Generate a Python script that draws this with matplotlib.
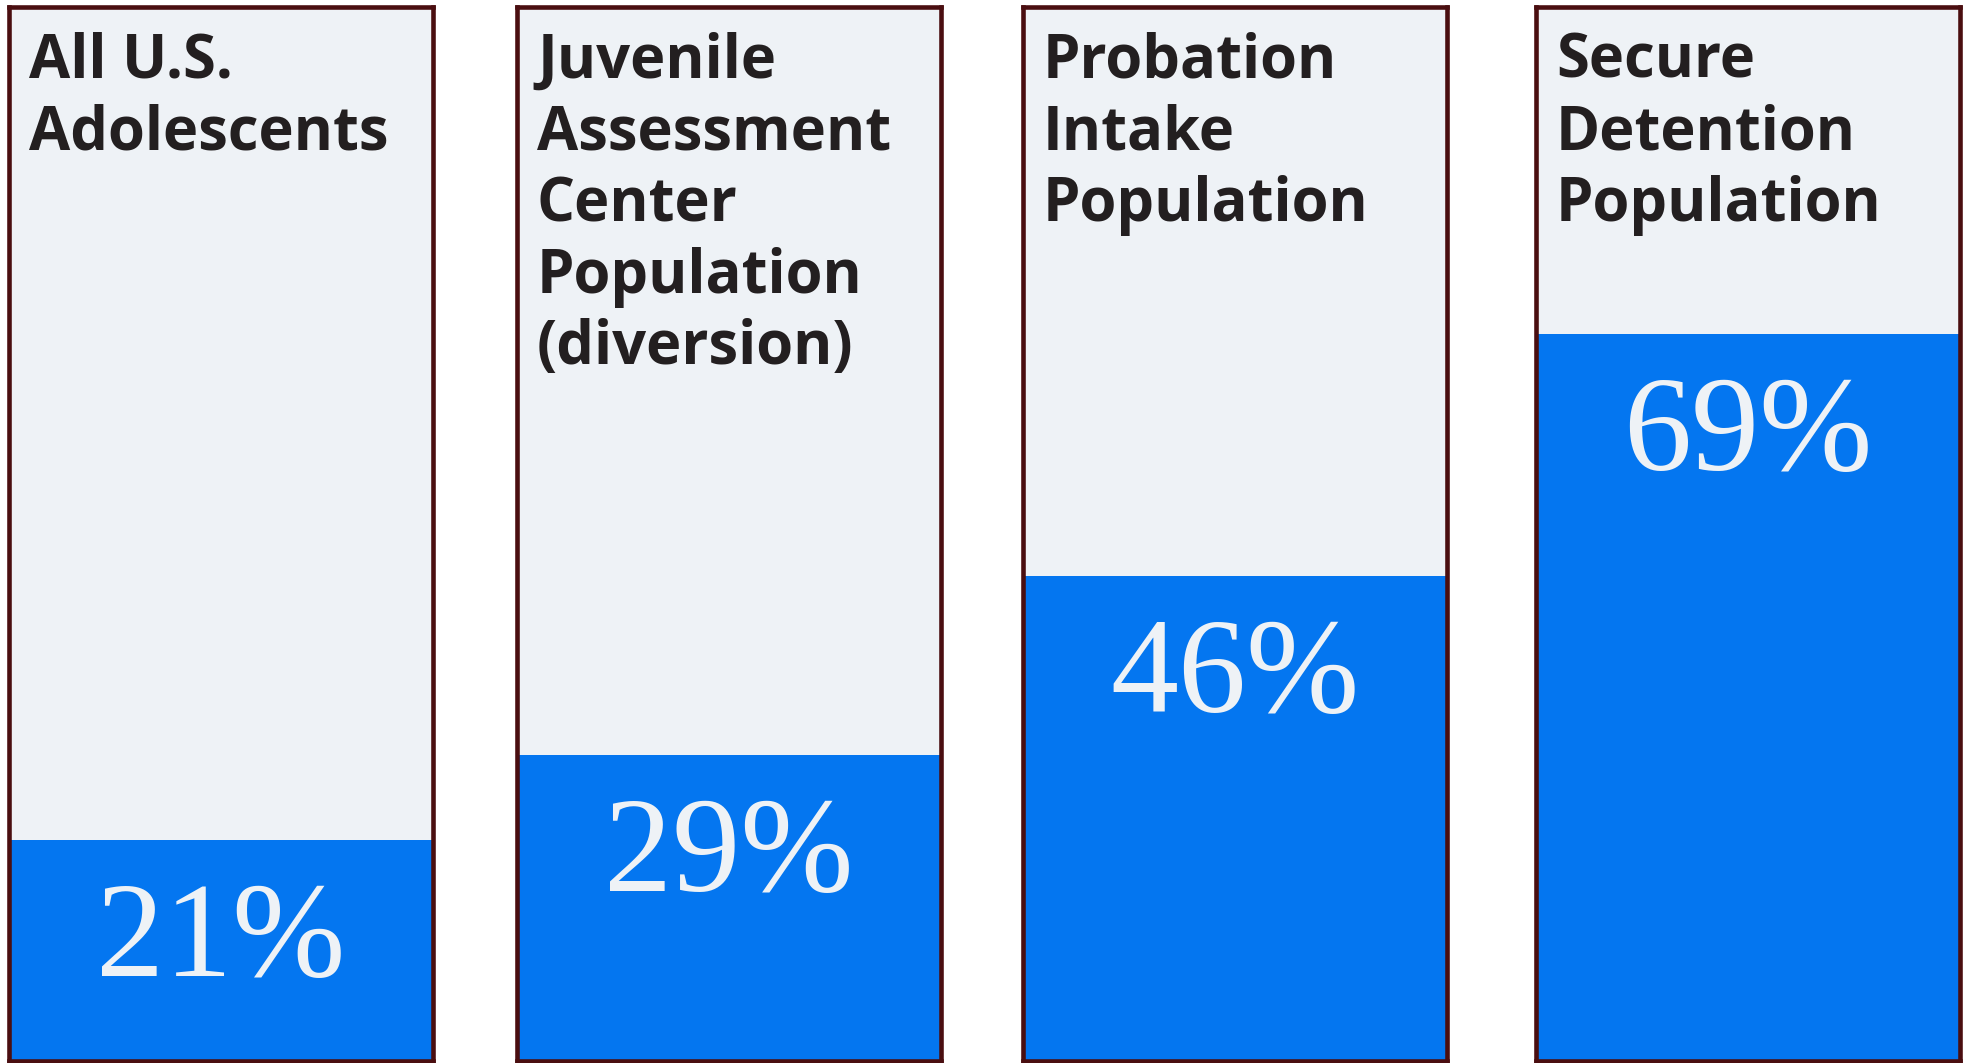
import matplotlib.pyplot as plt

# Share of each population
groups = [
    "All U.S.\nAdolescents",
    "Juvenile\nAssessment\nCenter\nPopulation\n(diversion)",
    "Probation\nIntake\nPopulation",
    "Secure\nDetention\nPopulation",
]
percents = [21, 29, 46, 69]

blue = "#0476F0"
panel_bg = "#EEF2F6"
border = "#4A0E10"
dark_text = "#231F20"

W, H = 1967, 1063
fig = plt.figure(figsize=(W / 100, H / 100), dpi=100)
fig.patch.set_facecolor("white")

# panel placement in pixels (left edge, width, top, bottom)
lefts = [9, 517, 1023, 1536]
panel_w = 424
top_px = 7
bottom_px = 1061

for i, (name, pct) in enumerate(zip(groups, percents)):
    ax = fig.add_axes([lefts[i] / W, (H - bottom_px) / H,
                       panel_w / W, (bottom_px - top_px) / H])
    ax.set_facecolor(panel_bg)
    ax.bar(0, pct, width=1, color=blue, align="center", zorder=1)
    ax.set_xlim(-0.5, 0.5)
    ax.set_ylim(0, 100)
    ax.set_xticks([])
    ax.set_yticks([])
    for sp in ax.spines.values():
        sp.set_color(border)
        sp.set_linewidth(3.3)
        sp.set_zorder(3)

    # group name, top left
    ax.annotate(name, xy=(0, 1), xycoords="axes fraction",
                xytext=(20, -25), textcoords="offset pixels",
                ha="left", va="top", fontsize=43, fontweight="bold",
                family=["Open Sans", "DejaVu Sans"], color=dark_text,
                linespacing=1.23)

    # percentage just under the top of the bar
    ax.annotate(f"{pct}%", xy=(0, pct), xycoords="data",
                xytext=(0, -136), textcoords="offset pixels",
                ha="center", va="baseline", fontsize=98,
                family=["Liberation Serif", "DejaVu Serif"], color=panel_bg)

fig.savefig("out.png", dpi=100, facecolor="white")
